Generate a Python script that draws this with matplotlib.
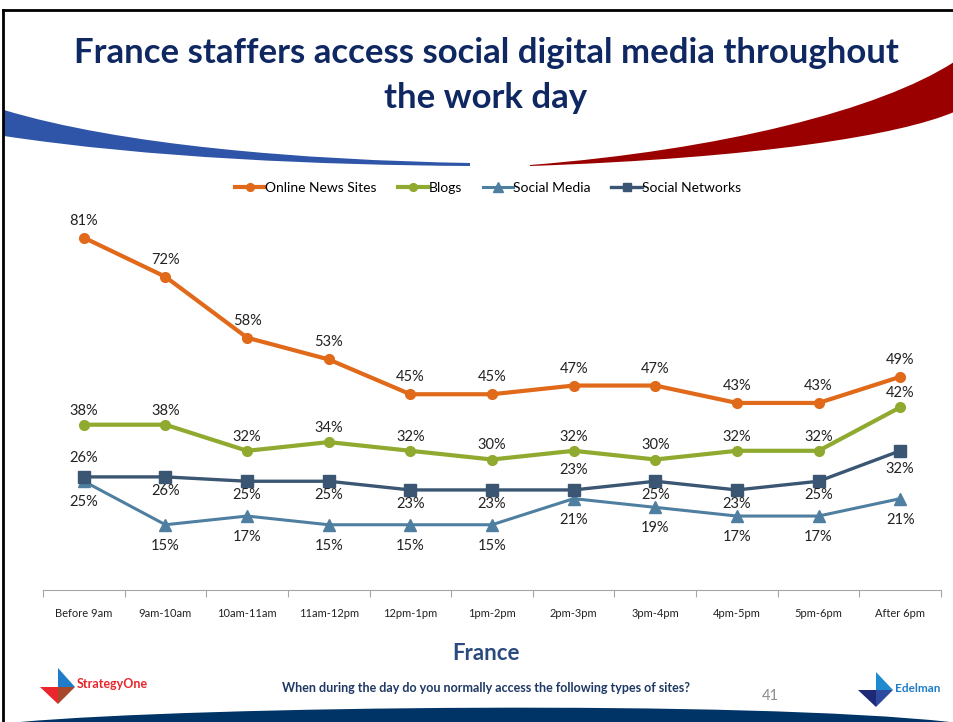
import matplotlib
matplotlib.use("Agg")
import matplotlib.pyplot as plt
import numpy as np
from matplotlib.path import Path
from matplotlib.patches import PathPatch, Polygon

plt.rcParams['font.family'] = ['Lato', 'DejaVu Sans']

categories = ["Before 9am", "9am-10am", "10am-11am", "11am-12pm", "12pm-1pm", "1pm-2pm",
              "2pm-3pm", "3pm-4pm", "4pm-5pm", "5pm-6pm", "After 6pm"]
online_news = [81, 72, 58, 53, 45, 45, 47, 47, 43, 43, 49]
blogs = [38, 38, 32, 34, 32, 30, 32, 30, 32, 32, 42]
social_media = [25, 15, 17, 15, 15, 15, 21, 19, 17, 17, 21]
social_networks = [26, 26, 25, 25, 23, 23, 23, 25, 23, 25, 32]

W, H = 954, 722
fig = plt.figure(figsize=(W / 100, H / 100), dpi=100)
fig.patch.set_facecolor("white")

# background overlay in pixel coordinates
bg = fig.add_axes([0, 0, 1, 1], zorder=-1)
bg.set_xlim(0, W)
bg.set_ylim(H, 0)
bg.axis("off")

def swoosh(p_top, p_bot, color):
    verts = p_top + p_bot[::-1] + [p_top[0]]
    codes = ([Path.MOVETO] + [Path.CURVE4] * 3 + [Path.LINETO] + [Path.CURVE4] * 3 + [Path.CLOSEPOLY])
    bg.add_patch(PathPatch(Path(verts, codes), facecolor=color, edgecolor="none"))

# blue swoosh (left)
swoosh([(4, 110), (120, 145), (300, 160), (470, 163)],
       [(4, 136), (150, 158), (320, 165), (470, 166)], "#2E55A8")
# red swoosh (right)
swoosh([(530, 165), (720, 150), (880, 110), (954, 62)],
       [(530, 166), (760, 158), (900, 135), (954, 112)], "#9B0000")
# bottom navy swoosh
bg.add_patch(PathPatch(Path([(20, 722), (200, 706), (750, 700), (950, 722), (20, 722)],
                            [Path.MOVETO, Path.CURVE4, Path.CURVE4, Path.CURVE4, Path.CLOSEPOLY]),
                       facecolor="#003366", edgecolor="none"))
# slide frame
bg.plot([3, W], [10, 10], color="black", lw=2)
bg.plot([3, 3], [10, H], color="black", lw=2)

# title
title_color = "#0F2862"
bg.text(486, 53, "France staffers access social digital media throughout", ha="center", va="center",
        fontsize=25, fontweight="bold", color=title_color)
bg.text(486, 98, "the work day", ha="center", va="center",
        fontsize=25, fontweight="bold", color=title_color)

# logos
bg.add_patch(Polygon([(58, 668), (58, 687), (75, 687)], closed=True, fc="#1E7CC8", ec="none"))
bg.add_patch(Polygon([(40, 687), (58, 687), (58, 704)], closed=True, fc="#E8262B", ec="none"))
bg.add_patch(Polygon([(58, 687), (75, 687), (58, 704)], closed=True, fc="#A8482A", ec="none"))
bg.text(77, 684, "StrategyOne", ha="left", va="center", fontsize=9, fontweight="bold", color="#E8262B")
bg.add_patch(Polygon([(876, 672), (876, 690), (893, 690)], closed=True, fc="#1E8AD0", ec="none"))
bg.add_patch(Polygon([(858, 690), (876, 690), (876, 707)], closed=True, fc="#1E2A78", ec="none"))
bg.add_patch(Polygon([(876, 690), (893, 690), (876, 707)], closed=True, fc="#2E4A9E", ec="none"))
bg.text(895, 689, "Edelman", ha="left", va="center", fontsize=8.5, fontweight="bold", color="#1E7CC8")

bg.text(486, 653, "France", ha="center", va="center", fontsize=16, fontweight="bold", color="#2B4A7E")
bg.text(486, 688, "When during the day do you normally access the following types of sites?",
        ha="center", va="center", fontsize=9, fontweight="bold", color="#1F3864")
bg.text(770, 696, "41", ha="center", va="center", fontsize=10.5, color="#8C8C8C")

# main chart axes
x0, x1 = 43, 941
ybase, ymaxpx = 590, 198.5
ax = fig.add_axes([x0 / W, 1 - ybase / H, (x1 - x0) / W, (ybase - ymaxpx) / H])
ax.set_facecolor("none")
x = np.arange(len(categories))
ax.set_xlim(-0.5, len(categories) - 0.5)
ax.set_ylim(0, 90)

series = [
    ("Online News Sites", online_news, "#E0691A", "o", 7, 3.0),
    ("Blogs", blogs, "#8FAA2F", "o", 7, 3.0),
    ("Social Media", social_media, "#4F7FA0", "^", 9, 2.2),
    ("Social Networks", social_networks, "#3A5673", "s", 8, 2.4),
]
handles = []
for name, vals, col, mk, ms, lw in series:
    h, = ax.plot(x, vals, color=col, marker=mk, markersize=ms, lw=lw, label=name, zorder=3)
    handles.append(h)

def label(vals, offsets):
    for xi, v, off in zip(x, vals, offsets):
        ax.annotate(f"{v}%", (xi, v), xytext=(0, off * 0.72), textcoords="offset points",
                    ha="center", va="center", fontsize=10.5, color="#222222")

label(online_news, [17] * 11)
label(blogs, [14] * 11)
label(social_networks, [19, -14, -14, -14, -14, -14, 20, -14, -14, -14, -18])
label(social_media, [-21] * 11)

for s in ["top", "right", "left"]:
    ax.spines[s].set_visible(False)
ax.spines["bottom"].set_color("#A6A6A6")
ax.set_yticks([])
ax.set_xticks(np.arange(-0.5, len(categories), 1.0), minor=False)
ax.set_xticklabels([])
ax.tick_params(axis="x", which="major", length=5, color="#A6A6A6", direction="out")
ax.set_xticks(x, minor=True)
ax.set_xticklabels(categories, minor=True, fontsize=8, color="#222222")
ax.tick_params(axis="x", which="minor", length=0, pad=13)

leg = fig.legend(handles=handles, loc="center", bbox_to_anchor=(488 / W, 1 - 188 / H), ncol=4,
                 frameon=False, fontsize=10, handlelength=2.2, handletextpad=0.0, columnspacing=1.5,
                 markerscale=0.8)

fig.savefig("out.png", dpi=100, facecolor="white")
